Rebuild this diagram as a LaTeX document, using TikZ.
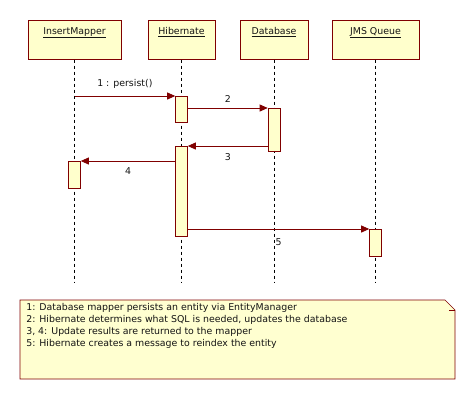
\documentclass[tikz,border=0pt]{standalone}
\usepackage{fontspec}
\setmainfont{DejaVu Sans}
\usepackage{xcolor}
\usepackage{tikz}
\usetikzlibrary{arrows.meta,positioning}

\definecolor{umlred}{RGB}{128,0,0}
\definecolor{umlfill}{RGB}{255,255,204}
\definecolor{notefill}{RGB}{255,255,208}
\definecolor{umltext}{RGB}{20,20,20}

\begin{document}
\begin{tikzpicture}[x=1pt,y=-1pt,font=\fontsize{9.4}{11}\selectfont,text=umltext,
    >={Triangle[length=8pt,width=7pt]}, semithick]
    \tikzstyle{object}=[draw=umlred,fill=umlfill,rectangle,anchor=north,inner sep=0pt,
        minimum height=39pt,text height=14pt,text depth=25pt]
    \tikzstyle{activation}=[draw=umlred,fill=umlfill,rectangle,anchor=north,inner sep=0pt,
        minimum width=12pt]
    \tikzstyle{lifeline}=[draw=black,thin,dashed,dash pattern=on 3pt off 3pt]
    \tikzstyle{message}=[->,draw=umlred,thick]

    \useasboundingbox (0,0) rectangle (476,400);

    % objects
    \node[object,minimum width=93pt] (im)  at (74.5,20) {\underline{InsertMapper}};
    \node[object,minimum width=67pt] (hib) at (181.5,20) {\underline{Hibernate}};
    \node[object,minimum width=68pt] (db)  at (274,20)  {\underline{Database}};
    \node[object,minimum width=87pt] (jms) at (375.5,20) {\underline{JMS Queue}};

    % lifelines
    \coordinate (imend)  at (im.south  |- 0,283);
    \coordinate (hibend) at (hib.south |- 0,283);
    \coordinate (dbend)  at (db.south  |- 0,283);
    \coordinate (jmsend) at (jms.south |- 0,283);
    \path[lifeline] (im.south) -- (imend);
    \path[lifeline] (hib.south) -- (hibend);
    \path[lifeline] (db.south) -- (dbend);
    \path[lifeline] (jms.south) -- (jmsend);

    % activations
    \node[activation,minimum height=26pt] (hib1) at (hib.south |- 0,96)  {};
    \node[activation,minimum height=43pt] (db1)  at (db.south  |- 0,108) {};
    \node[activation,minimum height=90pt] (hib2) at (hib.south |- 0,146) {};
    \node[activation,minimum height=27pt] (im1)  at (im.south  |- 0,161) {};
    \node[activation,minimum height=27pt] (jms1) at (jms.south |- 0,229) {};

    % messages
    \draw[message] (hib1.north west -| im.south) -- node[above=4pt] {1 : persist()} (hib1.north west);
    \draw[message] (db1.north west -| hib1.east) -- node[above=2pt] {2} (db1.north west);
    \draw[message] (hib2.north east -| db1.west) -- node[below=4pt] {3} (hib2.north east);
    \draw[message] (im1.north east -| hib2.west) -- node[below=3pt] {4} (im1.north east);
    \draw[message] (jms1.north west -| hib2.east) -- node[below=6pt] {5} (jms1.north west);

    % note
    \draw[umlred,fill=notefill] (20,300) -- (445,300) -- (455,310) -- (455,379) -- (20,379) -- cycle;
    \draw[umlred] (449,310) -- (455,310);
    \node[anchor=north west,align=left,inner sep=0pt,font=\fontsize{9.4}{11.7}\selectfont] (notetext) at (26,303.5)
        {1: Database mapper persists an entity via EntityManager\\
         2: Hibernate determines what SQL is needed, updates the database\\
         3, 4: Update results are returned to the mapper\\
         5: Hibernate creates a message to reindex the entity};
\end{tikzpicture}
\end{document}
